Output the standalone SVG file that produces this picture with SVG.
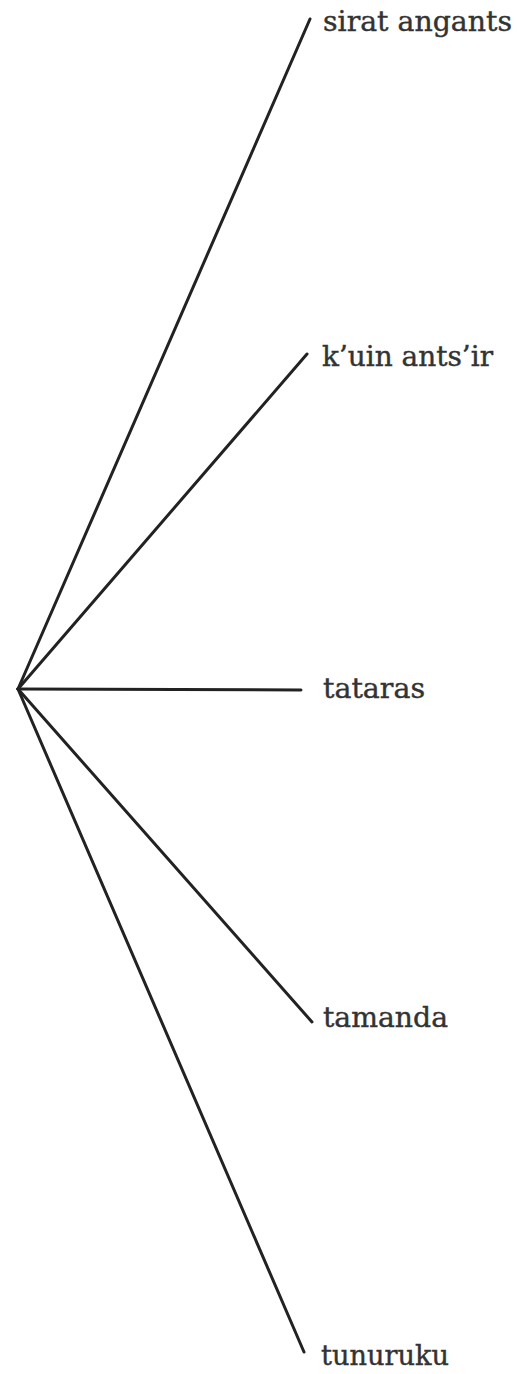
<svg xmlns="http://www.w3.org/2000/svg" width="524" height="1374" viewBox="0 0 524 1374">
<style>
.edge{stroke:#222;stroke-width:3;fill:none;stroke-linecap:round}
.lbl{font-family:"DejaVu Serif","Liberation Serif",serif;font-size:27px;fill:#333;stroke:#333;stroke-width:0.4}
</style>
<rect width="524" height="1374" fill="#fff"/>
<g id="connectors">
<line class="edge" x1="18" y1="689" x2="310" y2="19"/>
<line class="edge" x1="18" y1="689" x2="307" y2="354"/>
<line class="edge" x1="18" y1="689" x2="301" y2="690"/>
<line class="edge" x1="18" y1="689" x2="312" y2="1022"/>
<line class="edge" x1="18" y1="689" x2="304" y2="1352"/>
</g>
<g id="n1"><text class="lbl" x="323" y="31" textLength="189" lengthAdjust="spacingAndGlyphs">sirat angants</text></g>
<g id="n2"><text class="lbl" x="322" y="366" textLength="171" lengthAdjust="spacingAndGlyphs">k’uin ants’ir</text></g>
<g id="n3"><text class="lbl" x="323" y="698" textLength="102" lengthAdjust="spacingAndGlyphs">tataras</text></g>
<g id="n4"><text class="lbl" x="323" y="1027" textLength="125" lengthAdjust="spacingAndGlyphs">tamanda</text></g>
<g id="n5"><text class="lbl" x="321" y="1365" textLength="128" lengthAdjust="spacingAndGlyphs">tunuruku</text></g>
</svg>
